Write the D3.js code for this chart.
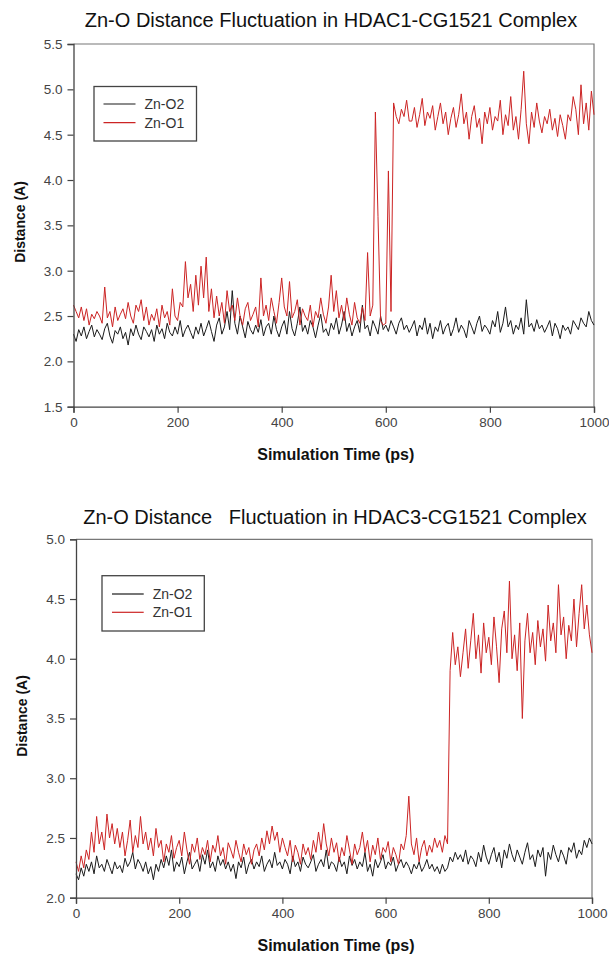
<!DOCTYPE html>
<html>
<head>
<meta charset="utf-8">
<script src="https://cdn.jsdelivr.net/npm/d3@7"></script>
<style>
  html, body { margin: 0; padding: 0; background: #fff; }
  svg { display: block; }
  text { font-family: "Liberation Sans", Arial, sans-serif; }
</style>
</head>
<body>
<svg id="chart" width="609" height="956"></svg>
<script>
// ---------- DATA ----------
const time = d3.range(0, 1001, 5); // ps

const xTicks = [0, 200, 400, 600, 800, 1000];
const yTicks1 = [1.5, 2.0, 2.5, 3.0, 3.5, 4.0, 4.5, 5.0, 5.5];
const yTicks2 = [2.0, 2.5, 3.0, 3.5, 4.0, 4.5, 5.0];

const seriesNames = ["Zn-O2", "Zn-O1"];
const titles = [
  "Zn-O Distance Fluctuation in HDAC1-CG1521 Complex",
  "Zn-O Distance   Fluctuation in HDAC3-CG1521 Complex"
];

const hdac1_ZnO2 = [
  2.30, 2.22, 2.35, 2.28, 2.38, 2.25, 2.33, 2.40, 2.27, 2.35,
  2.30, 2.24, 2.36, 2.42, 2.28, 2.20, 2.34, 2.30, 2.38, 2.25,
  2.32, 2.18, 2.36, 2.28, 2.40, 2.30, 2.24, 2.38, 2.33, 2.27,
  2.35, 2.22, 2.40, 2.30, 2.36, 2.25, 2.42, 2.32, 2.28, 2.38,
  2.30, 2.45, 2.27, 2.35, 2.40, 2.32, 2.25, 2.38, 2.30, 2.42,
  2.28, 2.36, 2.45, 2.33, 2.22, 2.40, 2.48, 2.30, 2.38, 2.55,
  2.35, 2.78, 2.42, 2.30, 2.50, 2.38, 2.26, 2.44, 2.35, 2.30,
  2.40, 2.32, 2.46, 2.28, 2.38, 2.42, 2.30, 2.50, 2.35, 2.27,
  2.38, 2.45, 2.30, 2.55, 2.36, 2.28, 2.42, 2.60, 2.33, 2.40,
  2.30, 2.45, 2.38, 2.26, 2.40, 2.52, 2.32, 2.36, 2.28, 2.42,
  2.35, 2.48, 2.30, 2.40, 2.55, 2.33, 2.42, 2.28, 2.38, 2.45,
  2.32, 2.62, 2.36, 2.40, 2.28, 2.45, 2.38, 2.30, 2.50, 2.35,
  2.40, 2.33, 2.45, 2.38, 2.30, 2.42, 2.48, 2.35, 2.40, 2.32,
  2.38, 2.45, 2.28, 2.40, 2.35, 2.48, 2.30, 2.42, 2.25, 2.38,
  2.33, 2.45, 2.30, 2.38, 2.42, 2.28, 2.36, 2.48, 2.32, 2.40,
  2.35, 2.26, 2.45, 2.38, 2.30, 2.42, 2.50, 2.33, 2.40, 2.36,
  2.30, 2.45, 2.38, 2.55, 2.32, 2.42, 2.60, 2.38, 2.45, 2.30,
  2.40, 2.35, 2.48, 2.30, 2.68, 2.38, 2.42, 2.33, 2.46, 2.36,
  2.40, 2.32, 2.38, 2.45, 2.28, 2.42, 2.36, 2.25, 2.40, 2.34,
  2.38, 2.30, 2.45, 2.40, 2.35, 2.48, 2.42, 2.38, 2.55, 2.45,
  2.40
];

const hdac1_ZnO1 = [
  2.62, 2.55, 2.48, 2.60, 2.45, 2.58, 2.40, 2.52, 2.47, 2.55,
  2.50, 2.42, 2.82, 2.48, 2.55, 2.38, 2.60, 2.45, 2.52, 2.58,
  2.47, 2.65, 2.50, 2.42, 2.62, 2.55, 2.68, 2.45, 2.60, 2.40,
  2.52, 2.45, 2.58, 2.38, 2.62, 2.48, 2.55, 2.40, 2.80, 2.50,
  2.45, 2.65, 2.60, 3.10, 2.70, 2.85, 2.55, 2.95, 2.62, 3.05,
  2.70, 3.15, 2.55, 2.80, 2.48, 2.72, 2.50, 2.65, 2.42, 2.78,
  2.55, 2.62, 2.45, 2.70, 2.50, 2.40, 2.58, 2.65, 2.45, 2.52,
  2.60, 2.38, 2.92, 2.50, 2.62, 2.45, 2.70, 2.55, 2.42, 2.65,
  2.92, 2.60, 2.50, 2.88, 2.48, 2.55, 2.68, 2.40, 2.58, 2.50,
  2.45, 2.62, 2.38, 2.55, 2.48, 2.70, 2.52, 2.42, 2.60, 2.95,
  2.55, 2.78, 2.48, 2.62, 2.45, 2.70, 2.52, 2.40, 2.65, 2.48,
  2.42, 2.60, 2.45, 3.20, 2.50, 2.62, 4.75, 3.60, 2.45, 2.40,
  2.42, 4.10, 2.55, 4.85, 4.70, 4.62, 4.78, 4.70, 4.88, 4.65,
  4.65, 4.80, 4.58, 4.72, 4.90, 4.60, 4.75, 4.68, 4.82, 4.55,
  4.70, 4.85, 4.62, 4.75, 4.50, 4.68, 4.80, 4.58, 4.72, 4.95,
  4.62, 4.75, 4.45, 4.70, 4.82, 4.58, 4.68, 4.40, 4.75, 4.62,
  4.80, 4.55, 4.70, 4.65, 4.88, 4.50, 4.72, 4.60, 4.92, 4.55,
  4.70, 4.45, 4.78, 5.20, 4.62, 4.40, 4.75, 4.58, 4.85, 4.65,
  4.52, 4.70, 4.62, 4.78, 4.55, 4.68, 4.48, 4.72, 4.60, 4.45,
  4.72, 4.65, 4.92, 4.78, 4.50, 5.05, 4.62, 4.85, 4.55, 4.98,
  4.72
];

const hdac3_ZnO2 = [
  2.20, 2.15, 2.25, 2.18, 2.28, 2.22, 2.30, 2.20, 2.35, 2.25,
  2.28, 2.22, 2.32, 2.26, 2.20, 2.30, 2.24, 2.27, 2.21, 2.33,
  2.26, 2.30, 2.38, 2.24, 2.32, 2.28, 2.22, 2.30, 2.20, 2.26,
  2.15, 2.28, 2.22, 2.32, 2.25, 2.35, 2.27, 2.40, 2.22, 2.30,
  2.26, 2.34, 2.20, 2.30, 2.38, 2.24, 2.28, 2.32, 2.22, 2.36,
  2.28, 2.40, 2.25, 2.30, 2.22, 2.35, 2.27, 2.32, 2.24, 2.30,
  2.22, 2.28, 2.16, 2.30, 2.25, 2.34, 2.20, 2.28, 2.32, 2.24,
  2.30, 2.26, 2.35, 2.22, 2.28, 2.32, 2.25, 2.38, 2.27, 2.30,
  2.24, 2.32, 2.28, 2.20, 2.35, 2.26, 2.30, 2.22, 2.34, 2.28,
  2.25, 2.30, 2.36, 2.22, 2.28, 2.32, 2.26, 2.40, 2.24, 2.30,
  2.28, 2.22, 2.34, 2.26, 2.30, 2.20, 2.35, 2.27, 2.32, 2.24,
  2.30, 2.26, 2.38, 2.22, 2.28, 2.18, 2.32, 2.25, 2.30, 2.36,
  2.24, 2.30, 2.27, 2.34, 2.22, 2.28, 2.32, 2.25, 2.30, 2.26,
  2.20, 2.28, 2.24, 2.30, 2.22, 2.26, 2.32, 2.24, 2.28, 2.22,
  2.26, 2.20, 2.28, 2.22, 2.25, 2.34, 2.30, 2.38, 2.32, 2.36,
  2.30, 2.40, 2.28, 2.35, 2.32, 2.26, 2.38, 2.30, 2.44, 2.34,
  2.28, 2.36, 2.42, 2.30, 2.38, 2.25, 2.40, 2.33, 2.45, 2.36,
  2.30, 2.40, 2.34, 2.28, 2.38, 2.46, 2.32, 2.36, 2.26, 2.40,
  2.34, 2.42, 2.18, 2.38, 2.32, 2.44, 2.36, 2.30, 2.40, 2.35,
  2.28, 2.42, 2.38, 2.46, 2.33, 2.40, 2.36, 2.48, 2.42, 2.50,
  2.45
];

const hdac3_ZnO1 = [
  2.30, 2.22, 2.35, 2.25, 2.40, 2.32, 2.55, 2.38, 2.68, 2.45,
  2.55, 2.40, 2.70, 2.50, 2.62, 2.45, 2.58, 2.42, 2.55, 2.35,
  2.48, 2.65, 2.38, 2.52, 2.42, 2.68, 2.45, 2.55, 2.40, 2.50,
  2.35, 2.58, 2.42, 2.48, 2.30, 2.45, 2.38, 2.52, 2.33, 2.42,
  2.48, 2.35, 2.55, 2.40, 2.28, 2.45, 2.38, 2.50, 2.32, 2.42,
  2.36, 2.48, 2.30, 2.44, 2.38, 2.52, 2.35, 2.42, 2.28, 2.46,
  2.40, 2.33, 2.48, 2.38, 2.30, 2.45, 2.36, 2.42, 2.28, 2.40,
  2.45, 2.35, 2.50, 2.40, 2.56, 2.45, 2.60, 2.48, 2.55, 2.38,
  2.50, 2.42, 2.35, 2.48, 2.30, 2.44, 2.38, 2.28, 2.45, 2.36,
  2.42, 2.32, 2.48, 2.38, 2.55, 2.40, 2.62, 2.45, 2.35, 2.50,
  2.38, 2.46, 2.30, 2.42, 2.35, 2.52, 2.40, 2.28, 2.45, 2.36,
  2.42, 2.55, 2.38, 2.48, 2.30, 2.44, 2.36, 2.50, 2.32, 2.42,
  2.38, 2.47, 2.30, 2.42, 2.36, 2.28, 2.45, 2.40, 2.52, 2.85,
  2.45, 2.36, 2.50, 2.30, 2.42, 2.48, 2.35, 2.44, 2.38, 2.50,
  2.42, 2.48, 2.38, 2.52, 2.45, 3.90, 4.22, 3.95, 4.10, 3.85,
  4.05, 4.25, 3.92, 4.15, 4.38, 4.00, 4.20, 3.88, 4.30, 4.05,
  4.18, 3.95, 4.35, 4.10, 3.80, 4.25, 4.40, 4.05, 4.65, 4.00,
  4.20, 3.90, 4.30, 3.50, 4.15, 4.38, 4.05, 4.22, 3.95, 4.32,
  4.10, 4.25, 3.98, 4.45, 4.15, 4.30, 4.05, 4.62, 4.20, 4.35,
  4.00, 4.28, 4.15, 4.50, 4.10, 4.38, 4.62, 4.25, 4.45, 4.20,
  4.05
];

// ---------- DRAWING ----------
const svg = d3.select("#chart");
const colors = { "Zn-O2": "#1a1a1a", "Zn-O1": "#cc2424" };

function drawChart(cfg) {
  const g = svg.append("g");
  const x = d3.scaleLinear().domain([0, 1000]).range([cfg.left, cfg.right]);
  const y = d3.scaleLinear().domain(cfg.yDomain).range([cfg.bottom, cfg.top]);

  // frame (top & right)
  g.append("path")
    .attr("d", `M${cfg.left},${cfg.top}H${cfg.right}V${cfg.bottom}`)
    .attr("fill", "none").attr("stroke", "#777").attr("stroke-width", 1.2);

  // series
  const line = d3.line().x((d, i) => x(time[i])).y(d => y(d));
  cfg.series.forEach(s => {
    g.append("path").datum(s.values)
      .attr("d", line)
      .attr("fill", "none")
      .attr("stroke", colors[s.name])
      .attr("stroke-width", 1)
      .attr("stroke-linejoin", "miter");
  });

  // axes
  const xAxis = d3.axisBottom(x).tickValues(xTicks).tickSize(6).tickPadding(5)
    .tickFormat(d3.format("d"));
  const gx = g.append("g").attr("transform", `translate(0,${cfg.bottom})`).call(xAxis);
  const yAxis = d3.axisLeft(y).tickValues(cfg.yTicks).tickSize(6).tickPadding(5)
    .tickFormat(d3.format(".1f"));
  const gy = g.append("g").attr("transform", `translate(${cfg.left},0)`).call(yAxis);
  [gx, gy].forEach(a => {
    a.select(".domain").attr("stroke", "#444").attr("stroke-width", 1.3);
    a.selectAll(".tick line").attr("stroke", "#444").attr("stroke-width", 1.2);
    a.selectAll(".tick text").attr("fill", "#444")
      .style("font-size", "13.5px")
      .style("font-family", "'Liberation Sans', Arial, sans-serif");
  });

  // title
  g.append("text").attr("x", cfg.titleX).attr("y", cfg.titleY)
    .attr("text-anchor", "middle").style("font-size", "20px")
    .style("white-space", "pre").attr("fill", "#111").text(cfg.title);

  // axis titles
  g.append("text").attr("x", (cfg.left + cfg.right) / 2 + 2).attr("y", cfg.xLabelY)
    .attr("text-anchor", "middle").style("font-size", "16px").style("font-weight", "bold")
    .attr("fill", "#111").text("Simulation Time (ps)");
  g.append("text")
    .attr("transform", `translate(${cfg.yLabelX},${cfg.yLabelY}) rotate(-90)`)
    .attr("text-anchor", "middle").style("font-size", "14px").style("font-weight", "bold")
    .attr("fill", "#111").text("Distance (A)");

  // legend
  const L = cfg.legend;
  g.append("rect").attr("x", L.x).attr("y", L.y).attr("width", L.w).attr("height", L.h)
    .attr("fill", "#fff").attr("stroke", "#444").attr("stroke-width", 1.3);
  seriesNames.forEach((name, i) => {
    const ly = L.y + L.row0 + i * L.dy;
    g.append("line").attr("x1", L.x + L.lx0).attr("x2", L.x + L.lx1)
      .attr("y1", ly).attr("y2", ly).attr("stroke", colors[name]).attr("stroke-width", 1.2);
    g.append("text").attr("x", L.x + L.tx).attr("y", ly).attr("dy", "0.35em")
      .style("font-size", "14px").attr("fill", "#333").text(name);
  });
}

drawChart({
  left: 73.5, right: 594, top: 44, bottom: 406.7,
  yDomain: [1.5, 5.5], yTicks: yTicks1,
  title: titles[0], titleX: 331, titleY: 27,
  xLabelY: 460, yLabelX: 25, yLabelY: 222,
  series: [{ name: "Zn-O2", values: hdac1_ZnO2 }, { name: "Zn-O1", values: hdac1_ZnO1 }],
  legend: { x: 94, y: 86.5, w: 102.5, h: 54.5, row0: 17.5, dy: 18.7, lx0: 9.5, lx1: 41.5, tx: 50.5 }
});

drawChart({
  left: 76, right: 592, top: 539.3, bottom: 897.7,
  yDomain: [2.0, 5.0], yTicks: yTicks2,
  title: titles[1], titleX: 335, titleY: 524,
  xLabelY: 951, yLabelX: 27, yLabelY: 716,
  series: [{ name: "Zn-O2", values: hdac3_ZnO2 }, { name: "Zn-O1", values: hdac3_ZnO1 }],
  legend: { x: 102, y: 575.7, w: 102.3, h: 55.3, row0: 18.3, dy: 18.3, lx0: 10, lx1: 41.7, tx: 50.7 }
});
</script>
</body>
</html>
